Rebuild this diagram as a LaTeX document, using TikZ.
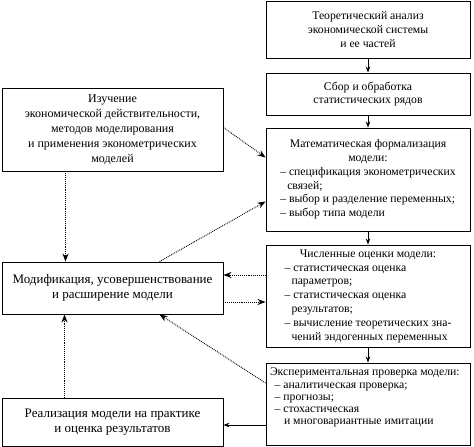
\documentclass[tikz,border=0pt]{standalone}
\usepackage{fontspec}
\setmainfont{Liberation Serif}
\usepackage{tikz}
\usetikzlibrary{arrows.meta}
\usetikzlibrary{calc}

\tikzset{
  block/.style={draw, line width=0.9pt, fill=white, inner sep=2pt, align=center,
    font=\fontsize{12}{15}\selectfont},
  rblock/.style={block, minimum width=204pt, font=\fontsize{11.7}{13.8}\selectfont},
  lblock/.style={block, minimum width=221pt},
  bigtext/.style={font=\fontsize{13}{14.5}\selectfont},
  flow/.style={-{Stealth[length=6pt,width=4.5pt]}, line width=0.8pt},
  link/.style={-{Stealth[length=8pt,width=6pt]}, line width=0.9pt, densely dotted}
}
\newcommand{\hd}[1]{\multicolumn{1}{@{}c@{}}{#1}}

\begin{document}
\begin{tikzpicture}[x=1pt, y=-1pt]
        \useasboundingbox (0,0) rectangle (474,447);

        % right column
        \node[rblock, minimum height=57pt] (R1) at (368,29.5) {Теоретический анализ\\ экономической системы\\ и ее частей};
        \node[rblock, minimum height=42pt] (R2) at (368,94) {Сбор и обработка\\ статистических рядов};
        \node[rblock, minimum height=103pt] (R3) at (368,179.5) {\begin{tabular}{@{}l@{}}
            \hd{Математическая формализация}\\
            \hd{модели:}\\
            – спецификация эконометрических\\
            \hspace{0.6em}связей;\\
            – выбор и разделение переменных;\\
            – выбор типа модели
          \end{tabular}};
        \node[rblock, minimum height=102pt] (R4) at (368,296) {\begin{tabular}{@{}l@{}}
            \hd{Численные оценки модели:}\\
            – статистическая оценка\\
            \hspace{0.6em}параметров;\\
            – статистическая оценка\\
            \hspace{0.6em}результатов;\\
            – вычисление теоретических зна-\\
            \hspace{0.6em}чений эндогенных переменных
          \end{tabular}};
        \node[rblock, minimum height=82pt] (R5) at (368,404) {\parbox[c][72pt][t]{196pt}{\fontsize{11.7}{12.3}\selectfont
            Экспериментальная проверка модели:\\
            \hspace*{0.4em}– аналитическая проверка;\\
            \hspace*{0.4em}– прогнозы;\\
            \hspace*{0.4em}– стохастическая\\
            \hspace*{1.2em}и многовариантные имитации}};

        % left column
        \node[lblock, minimum height=83pt] (L1) at (112.5,129.5) {Изучение\\ экономической действительности,\\ методов моделирования\\ и применения эконометрических\\ моделей};
        \node[lblock, bigtext, minimum height=52pt] (L2) at (112.5,288) {Модификация, усовершенствование\\ и расширение модели};
        \node[lblock, bigtext, minimum height=48pt] (L3) at (112.5,422) {Реализация модели на практике\\ и оценка результатов};

        % main chain
        \draw[flow] (R1) -- (R2);
        \draw[flow] (R2) -- (R3);
        \draw[flow] (R3) -- (R4);
        \draw[flow] (R4) -- (R5);
        \draw[flow] ([yshift=-21pt]R5.west) -- ([yshift=-21pt]R5.west -| L3.east);

        % feedback links
        \draw[link] ([yshift=2pt]L1.east) -- ([yshift=22pt]R3.west);
        \draw[link] ([xshift=-47pt]L1.south) -- ([xshift=-47pt]L2.north);
        \draw[link] ([xshift=47pt]L2.north) -- ([yshift=-22pt]R3.west);
        \draw[link] ([yshift=21pt]R4.west) -- ([yshift=21pt]R4.west -| L2.east);
        \draw[link] ([yshift=-14pt]L2.east) -- ([yshift=-14pt]L2.east -| R4.west);
        \draw[link] ([yshift=21pt]R5.west) -- ([xshift=47pt]L2.south);
        \draw[link] ([xshift=-48pt]L3.north) -- ([xshift=-48pt]L2.south);

\end{tikzpicture}
\end{document}
